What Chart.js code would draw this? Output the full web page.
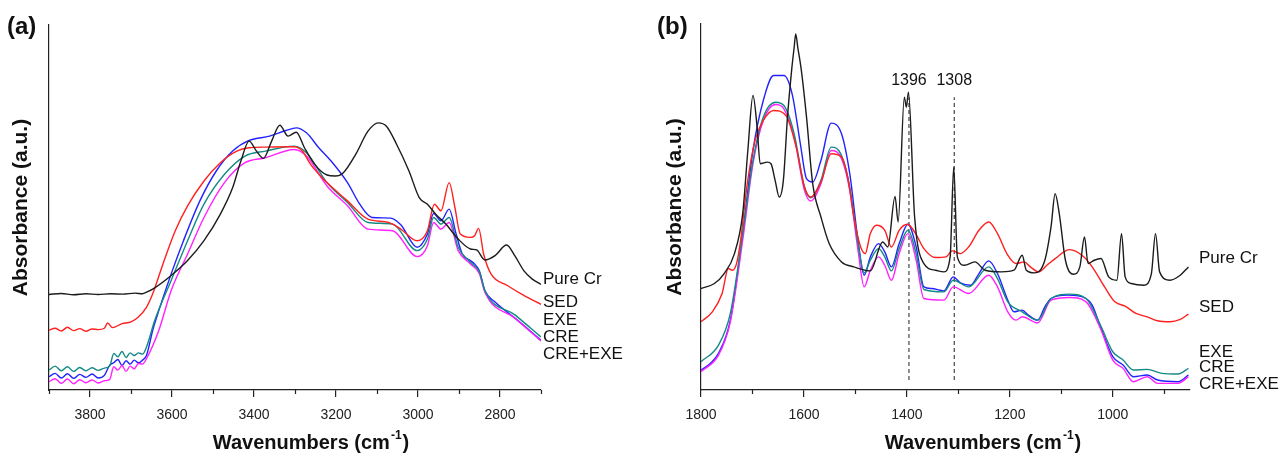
<!DOCTYPE html>
<html>
<head>
<meta charset="utf-8">
<script src="https://cdn.jsdelivr.net/npm/chart.js@4.4.1/dist/chart.umd.min.js"></script>
<style>
  html, body { margin: 0; padding: 0; background: #fff; }
  #wrap { position: relative; width: 1288px; height: 457px; }
  .panel { position: absolute; top: 0; width: 644px; height: 457px; }
  #pa { left: 0; }
  #pb { left: 644px; }
</style>
</head>
<body>
<div id="wrap">
  <div class="panel" id="pa"><canvas id="chart-a"></canvas></div>
  <div class="panel" id="pb"><canvas id="chart-b"></canvas></div>
</div>
<script>
// ---- panel (a): 3900-2700 cm-1 ----
const aTicks = [2700, 2800, 2900, 3000, 3100, 3200, 3300, 3400, 3500, 3600, 3700, 3800, 3900];

const aPureCrWn = [3900,3870,3840,3810,3780,3750,3720,3690,3672,3662,3642,3602,3562,3522,3482,3452,3432,3412,3394,3377,3357,3337,3317,3297,3277,3252,3222,3202,3182,3152,3122,3097,3077,3052,3022,2997,2977,2957,2932,2902,2872,2857,2837,2812,2784,2764,2742,2722,2700];
const aPureCrAbs = [28.8,29.1,28.7,29.0,28.8,29.0,28.9,29.2,29.0,29.5,30.8,34.5,39.0,45.0,53.0,61.0,69.0,75.0,72.0,69.8,75.0,79.8,76.5,77.7,73.0,68.0,64.8,64.5,65.5,71.0,78.0,80.5,79.5,74.0,66.0,58.0,56.0,53.0,50.0,45.5,42.5,42.2,39.2,40.5,43.7,40.5,36.0,33.5,31.8];

const aSedWn = [3900,3885,3870,3855,3840,3825,3810,3795,3780,3765,3757,3745,3722,3700,3682,3662,3647,3622,3592,3562,3522,3482,3442,3412,3372,3302,3282,3262,3222,3172,3122,3072,3042,3002,2977,2960,2944,2924,2910,2897,2872,2862,2852,2840,2822,2782,2742,2700];
const aSedAbs = [18.0,18.6,17.8,18.9,17.9,18.5,17.7,18.4,18.2,18.6,20.2,18.8,20.0,20.5,22.0,25.0,29.0,38.0,48.0,55.5,63.0,68.5,72.0,73.0,73.2,73.3,72.0,68.0,62.5,57.0,51.5,50.5,48.5,45.0,48.0,56.0,54.0,62.5,55.0,47.0,46.0,46.5,48.7,41.0,35.0,31.5,28.5,25.8];

const aExeWn = [3900,3885,3870,3855,3840,3825,3810,3795,3780,3765,3752,3742,3732,3722,3712,3702,3692,3682,3672,3662,3647,3632,3602,3572,3532,3492,3452,3412,3362,3322,3297,3272,3242,3212,3172,3142,3112,3067,3042,3002,2977,2962,2944,2924,2907,2892,2872,2862,2850,2837,2812,2762,2700];
const aExeAbs = [4.0,5.0,3.6,4.9,3.5,4.7,3.8,4.8,3.6,4.4,7.5,8.2,9.2,7.4,8.8,7.8,9.0,8.2,9.0,10.5,18.0,24.0,35.0,45.0,57.0,66.0,72.0,75.2,76.5,78.2,79.0,77.5,73.0,69.0,62.5,56.0,52.0,51.8,49.8,43.0,47.0,53.2,51.0,54.5,47.0,41.0,39.0,38.0,35.8,30.0,26.5,21.5,15.0];

const aCreWn = [3900,3885,3870,3855,3840,3825,3810,3795,3780,3765,3752,3742,3732,3722,3712,3702,3692,3682,3672,3662,3642,3602,3562,3522,3472,3422,3372,3302,3272,3222,3172,3122,3062,3002,2977,2962,2944,2924,2902,2872,2850,2837,2762,2700];
const aCreAbs = [6.0,7.2,5.8,7.0,5.6,6.8,5.8,6.7,5.9,6.6,7.2,11.0,10.0,11.6,9.8,11.2,10.4,11.2,10.8,13.0,21.0,33.0,45.0,56.0,65.0,70.5,72.0,73.5,71.5,62.5,56.5,50.5,50.0,42.0,45.5,52.0,50.0,52.0,43.0,38.5,35.5,30.0,22.5,16.0];

const aCreExeWn = [3900,3885,3870,3855,3840,3825,3810,3795,3780,3765,3752,3742,3732,3722,3712,3702,3692,3682,3672,3662,3632,3602,3562,3522,3472,3422,3372,3302,3272,3222,3172,3122,3062,3002,2977,2962,2944,2924,2902,2872,2850,2837,2762,2700];
const aCreExeAbs = [2.5,3.4,2.0,3.3,1.9,3.1,2.2,3.0,2.1,2.8,3.2,7.0,6.0,7.4,5.6,7.2,6.4,8.0,7.8,9.5,18.0,30.0,41.0,52.0,62.5,68.5,70.0,72.5,70.5,61.5,55.5,48.5,48.0,40.2,43.5,50.5,48.5,50.5,42.0,38.0,35.0,29.5,21.5,14.8];

// ---- panel (b): 1800-850 cm-1 ----
const bTicks = [900, 1000, 1100, 1200, 1300, 1400, 1500, 1600, 1700, 1800];
const bMarkWn = [1396, 1308];
const bMarkLabels = ['1396', '1308'];

const bPureCrWn = [1800,1774,1755,1735,1719,1709,1699,1691,1685,1671,1664,1656,1648,1640,1632,1624,1619,1616,1612,1605,1595,1583,1567,1551,1527,1503,1471,1447,1437,1423,1417,1405,1401,1397,1385,1367,1344,1328,1316,1309,1302,1288,1268,1248,1216,1192,1176,1168,1152,1132,1120,1112,1104,1092,1076,1064,1055,1048,1036,1023,1008,992,983,976,964,940,925,917,909,889,869,853];
const bPureCrAbs = [30.5,32.0,35.0,41.0,53.0,72.0,88.5,79.0,68.0,68.5,68.0,63.0,58.0,63.0,82.0,96.0,103.0,107.0,103.0,96.0,82.0,62.0,52.0,44.0,38.5,37.0,35.8,44.5,43.0,58.2,50.5,88.0,85.0,89.5,52.0,38.0,36.0,35.5,40.0,67.0,40.0,37.5,38.5,36.0,35.5,36.0,40.5,36.0,35.2,39.0,49.0,59.0,53.0,39.0,34.8,37.0,46.0,38.0,39.0,39.5,34.0,33.0,47.0,34.0,32.0,31.5,35.0,47.0,35.5,33.0,34.5,37.0];

const bSedWn = [1800,1778,1759,1747,1739,1731,1723,1711,1695,1679,1659,1635,1615,1599,1587,1567,1547,1527,1515,1503,1491,1481,1471,1459,1443,1430,1415,1399,1383,1367,1344,1324,1312,1296,1280,1260,1241,1224,1204,1188,1172,1160,1144,1128,1112,1084,1056,1040,1016,996,976,955,933,913,889,869,853];
const bSedAbs = [20.5,23.5,29.0,36.5,36.0,38.0,45.0,61.0,75.0,81.0,84.0,82.5,73.0,61.0,58.0,62.5,71.0,70.0,64.0,52.0,43.5,41.0,47.0,49.5,48.0,43.0,48.0,49.8,47.0,42.5,39.8,40.0,41.8,41.0,43.0,48.0,50.5,47.0,40.5,38.0,38.5,37.0,35.5,37.5,39.5,42.2,40.0,37.0,31.0,26.5,25.2,23.0,22.0,20.8,20.5,21.2,22.8];

const bExeWn = [1800,1782,1766,1743,1719,1699,1679,1659,1639,1623,1607,1595,1583,1567,1547,1527,1511,1495,1483,1471,1455,1443,1430,1415,1398,1382,1367,1352,1328,1310,1296,1276,1260,1241,1224,1204,1192,1176,1164,1146,1132,1120,1088,1052,1040,1024,1000,980,960,933,913,873,853];
const bExeAbs = [6.0,8.0,11.0,21.0,47.0,72.0,87.0,94.5,94.5,89.0,74.0,63.5,62.5,69.0,80.2,77.0,65.0,45.0,34.5,40.0,44.0,41.5,37.0,44.0,49.8,43.0,31.0,30.5,29.8,34.0,32.2,31.5,35.0,38.8,35.0,27.0,23.5,24.0,22.5,21.0,25.0,27.5,28.5,27.5,25.5,19.0,10.0,7.5,4.0,4.5,3.0,2.5,4.5];

const bCreWn = [1800,1766,1743,1719,1699,1679,1655,1639,1619,1599,1587,1567,1547,1527,1511,1495,1483,1471,1455,1443,1430,1415,1398,1382,1367,1328,1310,1280,1241,1224,1204,1176,1146,1120,1084,1052,1024,1000,980,960,933,905,873,853];
const bCreAbs = [8.5,13.5,23.0,47.0,69.0,82.0,86.5,85.5,77.0,61.0,57.8,63.0,73.0,70.5,61.0,44.0,35.2,39.0,42.5,40.0,35.8,42.5,48.0,41.0,30.2,29.5,33.0,31.0,37.0,33.5,26.5,23.5,21.0,27.5,28.8,27.5,19.5,11.5,9.0,6.0,6.2,5.0,4.8,6.5];

const bCreExeWn = [1800,1766,1743,1719,1699,1679,1655,1639,1619,1599,1587,1567,1547,1527,1511,1495,1483,1471,1455,1443,1430,1415,1398,1382,1367,1328,1310,1280,1241,1224,1204,1188,1176,1146,1120,1084,1052,1024,1000,980,960,933,913,873,853];
const bCreExeAbs = [5.5,10.5,20.5,45.0,68.0,81.0,85.8,84.5,76.0,60.0,56.8,62.0,72.0,69.5,60.0,42.0,31.0,36.0,40.0,37.5,33.0,41.0,47.0,39.0,27.5,27.0,31.0,29.0,34.5,31.0,23.5,21.0,22.0,20.2,27.0,27.8,26.5,18.5,9.0,6.5,2.5,4.0,2.0,2.0,4.0];

const FONT = '"Liberation Sans", Arial, sans-serif';
const colors = { 'Pure Cr': '#1c1c1c', 'SED': '#ff2020', 'EXE': '#2222ff', 'CRE': '#148a84', 'CRE+EXE': '#ff22ff' };

function zip(wn, abs) {
  return wn.map((x, i) => ({ x: x, y: abs[i] }));
}

// text, minor ticks and labels drawn on top of each panel
function panelText(cfg) {
  return {
    id: 'panelText',
    afterDraw(chart) {
      const ctx = chart.ctx, area = chart.chartArea, xs = chart.scales.x;
      ctx.save();
      // minor ticks (shorter)
      ctx.strokeStyle = '#222';
      ctx.lineWidth = 1.2;
      cfg.ticks.filter(v => v % 200 !== 0).forEach(v => {
        const px = Math.round(xs.getPixelForValue(v)) + 0.5;
        ctx.beginPath();
        ctx.moveTo(px, area.bottom);
        ctx.lineTo(px, area.bottom + 4);
        ctx.stroke();
      });

      ctx.fillStyle = '#111';
      ctx.textBaseline = 'alphabetic';
      ctx.textAlign = 'left';
      ctx.font = 'bold 24px ' + FONT;
      ctx.fillText(cfg.tag, cfg.tagX, 34);

      // y title
      ctx.save();
      ctx.translate(cfg.yTitleX, (area.top + area.bottom) / 2);
      ctx.rotate(-Math.PI / 2);
      ctx.textAlign = 'center';
      ctx.font = 'bold 21px ' + FONT;
      ctx.fillText('Absorbance (a.u.)', 0, 0);
      ctx.restore();

      // x title with superscript
      const big = 'bold 20px ' + FONT, small = 'bold 12px ' + FONT;
      ctx.font = big;
      const w1 = ctx.measureText('Wavenumbers (cm').width;
      const w3 = ctx.measureText(')').width;
      ctx.font = small;
      const w2 = ctx.measureText('-1').width;
      const x0 = cfg.xTitleCX - (w1 + w2 + w3 + 2) / 2;
      ctx.font = big;
      ctx.fillText('Wavenumbers (cm', x0, 449);
      ctx.font = small;
      ctx.fillText('-1', x0 + w1 + 1, 439);
      ctx.font = big;
      ctx.fillText(')', x0 + w1 + w2 + 2, 449);

      // series names at the right end
      ctx.font = '17px ' + FONT;
      Object.keys(cfg.labelY).forEach(name => {
        ctx.fillText(name, cfg.labelX, cfg.labelY[name]);
      });

      // peak labels
      if (cfg.marks) {
        ctx.textAlign = 'center';
        ctx.font = '16px ' + FONT;
        cfg.marks.forEach((v, i) => {
          ctx.fillText(cfg.markLabels[i], xs.getPixelForValue(v), 85);
        });
      }
      ctx.restore();
    }
  };
}

function makeChart(id, cfg) {
  const datasets = cfg.series.map(s => ({
    label: s.name,
    data: zip(s.wn, s.abs),
    borderColor: colors[s.name],
    borderWidth: 1.4,
    pointRadius: 0,
    fill: false,
    cubicInterpolationMode: 'monotone'
  }));
  (cfg.marks || []).forEach(v => {
    datasets.push({
      label: 'mark ' + v,
      data: [{ x: v, y: 3 }, { x: v, y: 88 }],
      borderColor: '#333',
      borderWidth: 1.1,
      borderDash: [4, 3],
      pointRadius: 0,
      fill: false
    });
  });

  return new Chart(document.getElementById(id), {
    type: 'line',
    data: { datasets: datasets },
    options: {
      responsive: true,
      maintainAspectRatio: false,
      animation: false,
      layout: { padding: { top: cfg.padTop, right: cfg.padRight, left: 0, bottom: 0 } },
      plugins: { legend: { display: false }, tooltip: { enabled: false } },
      scales: {
        x: {
          type: 'linear',
          reverse: true,
          min: cfg.xMin,
          max: cfg.xMax,
          afterBuildTicks: s => { s.ticks = cfg.ticks.map(v => ({ value: v })); },
          afterFit: s => { s.height = 67; },
          ticks: {
            autoSkip: false,
            maxRotation: 0,
            padding: 10,
            color: '#222',
            font: { family: FONT, size: 14 },
            callback: v => (v % 200 === 0 ? String(v) : '')
          },
          grid: {
            display: true,
            drawOnChartArea: false,
            drawTicks: true,
            tickLength: 7,
            lineWidth: 1.2,
            color: c => (c.tick && c.tick.value % 200 === 0 ? '#222' : 'rgba(0,0,0,0)'),
            tickColor: c => (c.tick && c.tick.value % 200 === 0 ? '#222' : 'rgba(0,0,0,0)')
          },
          border: { display: true, color: '#222', width: 1.2 }
        },
        y: {
          min: 0,
          max: 110,
          afterFit: s => { s.width = cfg.yWidth; },
          ticks: { display: false },
          grid: { display: false },
          border: { display: true, color: '#222', width: 1.2 }
        }
      }
    },
    plugins: [panelText(cfg)]
  });
}

makeChart('chart-a', {
  tag: '(a)', tagX: 7, yTitleX: 27, xTitleCX: 311,
  padTop: 25, padRight: 103, yWidth: 49,
  xMin: 2700, xMax: 3900, ticks: aTicks,
  labelX: 543,
  labelY: { 'Pure Cr': 284, 'SED': 307, 'EXE': 325, 'CRE': 342, 'CRE+EXE': 359 },
  series: [
    { name: 'Pure Cr', wn: aPureCrWn, abs: aPureCrAbs },
    { name: 'SED', wn: aSedWn, abs: aSedAbs },
    { name: 'CRE', wn: aCreWn, abs: aCreAbs },
    { name: 'CRE+EXE', wn: aCreExeWn, abs: aCreExeAbs },
    { name: 'EXE', wn: aExeWn, abs: aExeAbs }
  ]
});

makeChart('chart-b', {
  tag: '(b)', tagX: 13, yTitleX: 37, xTitleCX: 339,
  padTop: 24, padRight: 98, yWidth: 57,
  xMin: 850, xMax: 1800, ticks: bTicks,
  labelX: 555,
  labelY: { 'Pure Cr': 263, 'SED': 312, 'EXE': 357, 'CRE': 372, 'CRE+EXE': 389 },
  marks: bMarkWn, markLabels: bMarkLabels,
  series: [
    { name: 'Pure Cr', wn: bPureCrWn, abs: bPureCrAbs },
    { name: 'SED', wn: bSedWn, abs: bSedAbs },
    { name: 'CRE', wn: bCreWn, abs: bCreAbs },
    { name: 'CRE+EXE', wn: bCreExeWn, abs: bCreExeAbs },
    { name: 'EXE', wn: bExeWn, abs: bExeAbs }
  ]
});
</script>
</body>
</html>
